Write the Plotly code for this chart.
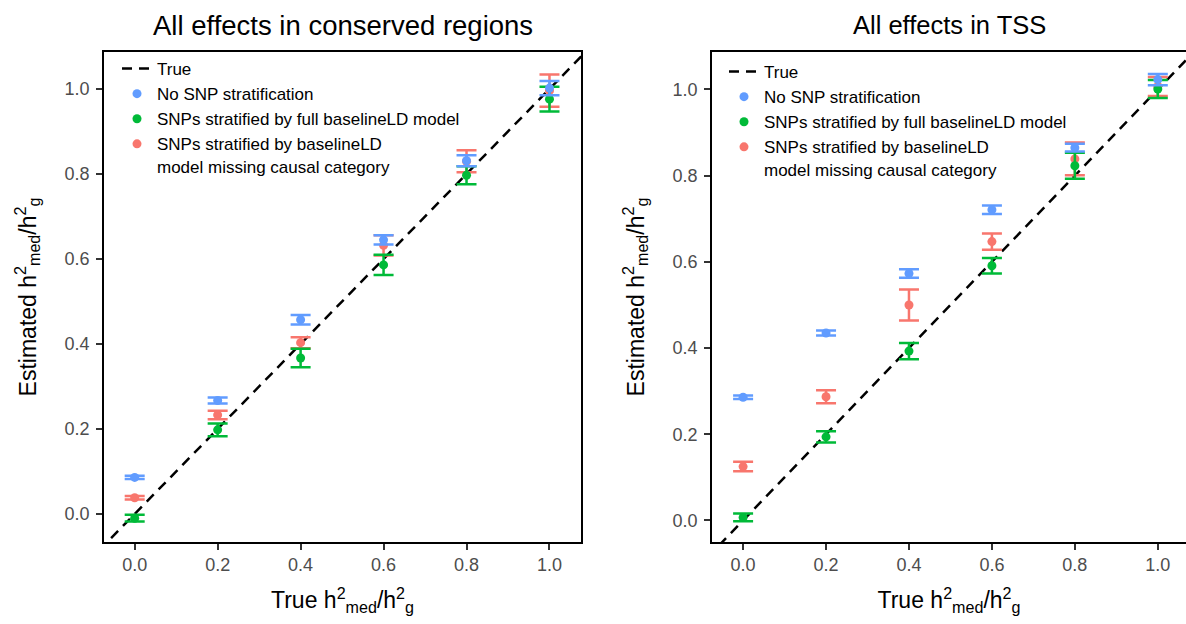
import plotly.graph_objects as go

# True mediated-heritability fractions (x positions of every estimate)
true_frac = [0.0, 0.2, 0.4, 0.6, 0.8, 1.0]

# Panel 1: all effects in conserved regions
cons_nostrat = [0.086, 0.267, 0.457, 0.645, 0.831, 1.002]
cons_nostrat_se = [0.004, 0.007, 0.011, 0.011, 0.013, 0.017]
cons_full = [-0.010, 0.198, 0.367, 0.586, 0.797, 0.976]
cons_full_se = [0.008, 0.015, 0.022, 0.024, 0.021, 0.029]
cons_missing = [0.038, 0.233, 0.403, 0.632, 0.830, 0.996]
cons_missing_se = [0.004, 0.010, 0.013, 0.024, 0.026, 0.038]

# Panel 2: all effects in TSS
tss_nostrat = [0.286, 0.435, 0.573, 0.721, 0.865, 1.023]
tss_nostrat_se = [0.004, 0.006, 0.010, 0.010, 0.009, 0.013]
tss_full = [0.007, 0.194, 0.393, 0.591, 0.823, 1.001]
tss_full_se = [0.009, 0.013, 0.019, 0.018, 0.030, 0.021]
tss_missing = [0.125, 0.287, 0.500, 0.647, 0.839, 1.007]
tss_missing_se = [0.011, 0.015, 0.036, 0.019, 0.038, 0.022]

panel_titles = ["All effects in conserved regions", "All effects in TSS"]
title_sizes = [27.5, 25.5]
series_names = [
    "No SNP stratification",
    "SNPs stratified by full baselineLD model",
    "SNPs stratified by baselineLD<br>model missing causal category",
]
series_colors = ["#619CFF", "#00BA38", "#F8766D"]
tick_vals = [0.0, 0.2, 0.4, 0.6, 0.8, 1.0]
tick_text = ["0.0", "0.2", "0.4", "0.6", "0.8", "1.0"]
identity_line = [-0.2, 1.3]

FONT = "Liberation Sans, Arial, sans-serif"
W, H = 1186, 624
M_T, M_B = 52, 82
plot_h = H - M_T - M_B

panels = [
    dict(xa="x", ya="y", legend="legend",
         series=[(cons_nostrat, cons_nostrat_se), (cons_full, cons_full_se),
                 (cons_missing, cons_missing_se)]),
    dict(xa="x2", ya="y2", legend="legend2",
         series=[(tss_nostrat, tss_nostrat_se), (tss_full, tss_full_se),
                 (tss_missing, tss_missing_se)]),
]

fig = go.Figure()
for p in panels:
    fig.add_trace(go.Scatter(
        x=identity_line, y=identity_line, mode="lines", name="True",
        line=dict(color="black", width=2.5, dash="10px,7px"),
        xaxis=p["xa"], yaxis=p["ya"], legend=p["legend"], legendrank=1,
        hoverinfo="skip",
    ))
    # red first, then green, then blue on top; legend keeps blue/green/red order
    for k in [2, 1, 0]:
        vals, se = p["series"][k]
        fig.add_trace(go.Scatter(
            x=true_frac, y=vals, mode="markers", name=series_names[k],
            marker=dict(color=series_colors[k], size=9),
            error_y=dict(type="data", array=se, visible=True, width=10,
                         thickness=2.5, color=series_colors[k]),
            xaxis=p["xa"], yaxis=p["ya"], legend=p["legend"], legendrank=2 + k,
        ))

x_title = "True h<sup>2</sup><sub>med</sub>/h<sup>2</sup><sub>g</sub>"
y_title = "Estimated h<sup>2</sup><sub>med</sub>/h<sup>2</sup><sub>g</sub>"

axis_common = dict(
    showline=True, linecolor="black", linewidth=1.5, mirror=True,
    ticks="outside", ticklen=6, tickwidth=1.5, tickcolor="#333333",
    showgrid=False, zeroline=False,
    tickvals=tick_vals, ticktext=tick_text,
    tickfont=dict(family=FONT, size=18, color="#4D4D4D"),
    title_font=dict(family=FONT, size=23, color="black"),
    automargin=False,
)

dom1 = [104 / W, 581 / W]
dom2 = [712 / W, 1.0]

legend_common = dict(
    xanchor="left", yanchor="top", bgcolor="rgba(255,255,255,0)",
    font=dict(family=FONT, size=17), valign="top", tracegroupgap=0, itemwidth=30,
)

fig.update_layout(
    width=W, height=H,
    margin=dict(l=0, r=0, t=M_T, b=M_B),
    paper_bgcolor="white", plot_bgcolor="white",
    font=dict(family=FONT, color="black"),
    showlegend=True,
    xaxis=dict(domain=dom1, range=[-0.074, 1.076], anchor="y",
               title=dict(text=x_title, standoff=18), **axis_common),
    yaxis=dict(domain=[0, 1], range=[-0.066, 1.087], anchor="x",
               title=dict(text=y_title, standoff=22), ticklabelstandoff=3,
               **axis_common),
    xaxis2=dict(domain=dom2, range=[-0.075, 1.068], anchor="y2",
                title=dict(text=x_title, standoff=18), **axis_common),
    yaxis2=dict(domain=[0, 1], range=[-0.050, 1.087], anchor="x2",
                title=dict(text=y_title, standoff=22), ticklabelstandoff=3,
                **axis_common),
    legend=dict(x=117 / W, y=(H - M_B - 51) / plot_h, **legend_common),
    legend2=dict(x=724 / W, y=(H - M_B - 54) / plot_h, **legend_common),
)

for i, dom in enumerate([dom1, dom2]):
    fig.add_annotation(
        text=panel_titles[i], xref="paper", yref="paper",
        x=(dom[0] + dom[1]) / 2, y=(H - M_B - 25) / plot_h,
        xanchor="center", yanchor="middle", showarrow=False,
        font=dict(family=FONT, size=title_sizes[i], color="black"),
    )

fig.write_html("out.html")
